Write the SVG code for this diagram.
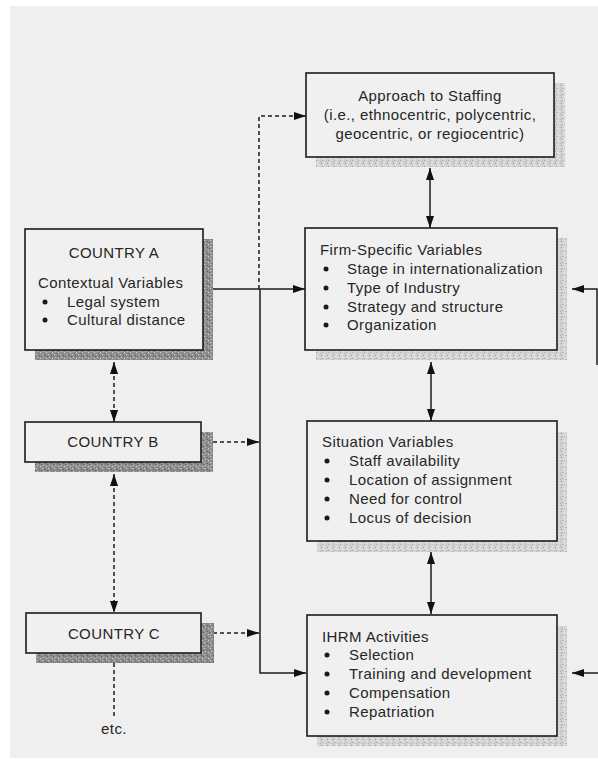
<svg xmlns="http://www.w3.org/2000/svg" width="598" height="759" viewBox="0 0 598 759">
  <defs>
    <style>
      .box { fill: #f0f0f0; stroke: #1c1c1c; stroke-width: 1.6; }
      .shadow-dark { fill: url(#grainDark); }
      .shadow-light { fill: url(#grainLight); }
      .t { font-family: "Liberation Sans", Arial, sans-serif; font-size: 15px; letter-spacing: 0.4px; fill: #262626; }
      .mid { text-anchor: middle; }
      .bullet { fill: #1a1a1a; }
      .solid { fill: none; stroke: #1c1c1c; stroke-width: 1.5; }
      .dash { fill: none; stroke: #1c1c1c; stroke-width: 1.5; stroke-dasharray: 4 3; }
    </style>
    <!-- stippled drop-shadow textures -->
    <pattern id="grainDark" width="6" height="6" patternUnits="userSpaceOnUse">
      <rect width="6" height="6" fill="#8e8e8e"/>
      <rect x="0" y="0" width="1" height="1" fill="#d0d0d0"/>
      <rect x="3" y="1" width="1" height="1" fill="#5a5a5a"/>
      <rect x="1" y="3" width="1" height="1" fill="#c4c4c4"/>
      <rect x="4" y="4" width="1" height="1" fill="#d8d8d8"/>
      <rect x="5" y="2" width="1" height="1" fill="#666"/>
      <rect x="2" y="5" width="1" height="1" fill="#707070"/>
    </pattern>
    <pattern id="grainLight" width="6" height="6" patternUnits="userSpaceOnUse">
      <rect width="6" height="6" fill="#d2d2d2"/>
      <rect x="0" y="0" width="1" height="1" fill="#f2f2f2"/>
      <rect x="3" y="1" width="1" height="1" fill="#9a9a9a"/>
      <rect x="1" y="3" width="1" height="1" fill="#eeeeee"/>
      <rect x="4" y="4" width="1" height="1" fill="#a8a8a8"/>
      <rect x="5" y="2" width="1" height="1" fill="#f4f4f4"/>
      <rect x="2" y="5" width="1" height="1" fill="#b0b0b0"/>
    </pattern>
    <marker id="arrow" viewBox="0 0 12 8" refX="12" refY="4" markerWidth="12" markerHeight="8" markerUnits="userSpaceOnUse" orient="auto-start-reverse">
      <path d="M0,0 L12,4 L0,8 z" fill="#111"/>
    </marker>
  </defs>

  <!-- page -->
  <rect width="598" height="759" fill="#ffffff"/>
  <rect x="10" y="6" width="588" height="752" fill="#efefef"/>

  <!-- connectors -->
  <g id="connectors">
    <!-- country stack links -->
    <path class="dash" d="M114,362 V422" marker-start="url(#arrow)" marker-end="url(#arrow)"/>
    <path class="dash" d="M114,474 V613" marker-start="url(#arrow)" marker-end="url(#arrow)"/>
    <path class="dash" d="M114,663 V718"/>
    <!-- feed line to approach to staffing -->
    <path class="dash" d="M259,289 V116 H306" marker-end="url(#arrow)"/>
    <!-- country A to firm-specific variables -->
    <path class="solid" d="M203,289 H305" marker-end="url(#arrow)"/>
    <!-- trunk down to IHRM activities -->
    <path class="solid" d="M260,289 V673 H306" marker-end="url(#arrow)"/>
    <!-- countries B and C into trunk -->
    <path class="dash" d="M213,442 H259" marker-end="url(#arrow)"/>
    <path class="dash" d="M213,633 H259" marker-end="url(#arrow)"/>
    <!-- right-hand column links -->
    <path class="solid" d="M430,168 V228" marker-start="url(#arrow)" marker-end="url(#arrow)"/>
    <path class="solid" d="M431,362 V421" marker-start="url(#arrow)" marker-end="url(#arrow)"/>
    <path class="solid" d="M431,552 V614" marker-start="url(#arrow)" marker-end="url(#arrow)"/>
    <!-- feedback from the right edge -->
    <path class="solid" d="M597,365 V289 H572" marker-end="url(#arrow)"/>
    <path class="solid" d="M598,673 H572" marker-end="url(#arrow)"/>
  </g>

  <g id="approach">
    <rect class="shadow-light" x="316" y="83" width="249" height="84"/>
    <rect class="box" x="306" y="73" width="248" height="84"/>
    <text class="t mid" x="430" y="101">Approach to Staffing</text>
    <text class="t mid" x="430" y="120">(i.e., ethnocentric, polycentric,</text>
    <text class="t mid" x="430" y="139">geocentric, or regiocentric)</text>
  </g>

  <g id="countryA">
    <rect class="shadow-dark" x="35" y="239" width="178" height="121"/>
    <rect class="box" x="25" y="229" width="178" height="121"/>
    <text class="t mid" x="114" y="258">COUNTRY A</text>
    <text class="t" x="38" y="288">Contextual Variables</text>
    <circle class="bullet" cx="45" cy="302" r="2.5"/>
    <text class="t" x="67" y="307">Legal system</text>
    <circle class="bullet" cx="45" cy="320" r="2.5"/>
    <text class="t" x="67" y="325">Cultural distance</text>
  </g>

  <g id="firm">
    <rect class="shadow-light" x="316" y="238" width="251" height="122"/>
    <rect class="box" x="305" y="228" width="252" height="122"/>
    <text class="t" x="320" y="255">Firm-Specific Variables</text>
    <circle class="bullet" cx="326" cy="269" r="2.5"/>
    <text class="t" x="347" y="274">Stage in internationalization</text>
    <circle class="bullet" cx="326" cy="288" r="2.5"/>
    <text class="t" x="347" y="293">Type of Industry</text>
    <circle class="bullet" cx="326" cy="307" r="2.5"/>
    <text class="t" x="347" y="312">Strategy and structure</text>
    <circle class="bullet" cx="326" cy="325" r="2.5"/>
    <text class="t" x="347" y="330">Organization</text>
  </g>

  <g id="countryB">
    <rect class="shadow-dark" x="35" y="432" width="178" height="40"/>
    <rect class="box" x="25" y="422" width="176" height="40"/>
    <text class="t mid" x="113" y="447">COUNTRY B</text>
  </g>

  <g id="situation">
    <rect class="shadow-light" x="317" y="432" width="250" height="120"/>
    <rect class="box" x="307" y="421" width="250" height="120"/>
    <text class="t" x="322" y="447">Situation Variables</text>
    <circle class="bullet" cx="327" cy="461" r="2.5"/>
    <text class="t" x="349" y="466">Staff availability</text>
    <circle class="bullet" cx="327" cy="480" r="2.5"/>
    <text class="t" x="349" y="485">Location of assignment</text>
    <circle class="bullet" cx="327" cy="499" r="2.5"/>
    <text class="t" x="349" y="504">Need for control</text>
    <circle class="bullet" cx="327" cy="518" r="2.5"/>
    <text class="t" x="349" y="523">Locus of decision</text>
  </g>

  <g id="countryC">
    <rect class="shadow-dark" x="36" y="623" width="178" height="40"/>
    <rect class="box" x="26" y="613" width="175" height="40"/>
    <text class="t mid" x="114" y="639">COUNTRY C</text>
  </g>

  <g id="ihrm">
    <rect class="shadow-light" x="317" y="626" width="250" height="120"/>
    <rect class="box" x="307" y="615" width="250" height="121"/>
    <text class="t" x="322" y="642">IHRM Activities</text>
    <circle class="bullet" cx="327" cy="655" r="2.5"/>
    <text class="t" x="349" y="660">Selection</text>
    <circle class="bullet" cx="327" cy="674" r="2.5"/>
    <text class="t" x="349" y="679">Training and development</text>
    <circle class="bullet" cx="327" cy="693" r="2.5"/>
    <text class="t" x="349" y="698">Compensation</text>
    <circle class="bullet" cx="327" cy="712" r="2.5"/>
    <text class="t" x="349" y="717">Repatriation</text>
  </g>

  <g id="etc">
    <text class="t mid" x="114" y="734">etc.</text>
  </g>
</svg>
